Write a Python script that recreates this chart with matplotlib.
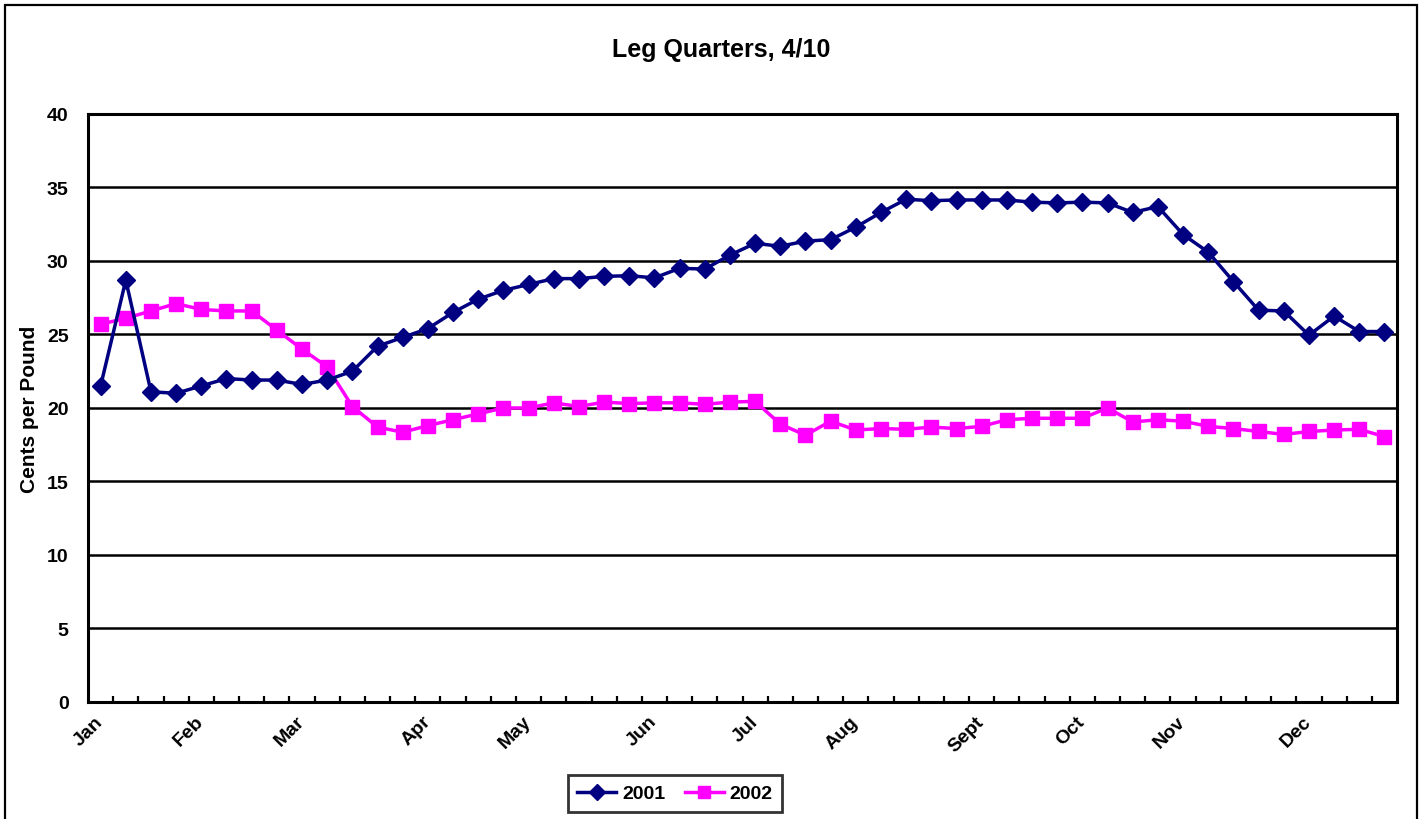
import matplotlib
matplotlib.use("Agg")
import matplotlib.pyplot as plt
from matplotlib.patches import Rectangle
from matplotlib.ticker import FixedLocator

plt.rcParams['font.family'] = ['Liberation Sans', 'DejaVu Sans']
plt.rcParams['font.weight'] = 'bold'

# weekly prices, cents per pound
y2001 = [21.5, 28.7, 21.1, 21.0, 21.5, 22.0, 21.9, 21.9, 21.6, 21.9,
         22.5, 24.2, 24.8, 25.4, 26.5, 27.4, 28.0, 28.4, 28.8, 28.8,
         28.95, 29.0, 28.85, 29.5, 29.45, 30.4, 31.2, 31.0, 31.35, 31.45,
         32.3, 33.3, 34.2, 34.1, 34.15, 34.15, 34.15, 34.0, 33.95, 34.0,
         33.95, 33.3, 33.7, 31.8, 30.6, 28.6, 26.65, 26.6, 24.95, 26.25,
         25.2, 25.2]
y2002 = [25.7, 26.1, 26.6, 27.1, 26.7, 26.6, 26.6, 25.3, 24.0, 22.8,
         20.1, 18.7, 18.35, 18.8, 19.2, 19.6, 20.0, 20.0, 20.35, 20.1,
         20.4, 20.3, 20.35, 20.35, 20.25, 20.4, 20.45, 18.9, 18.15, 19.1,
         18.5, 18.6, 18.55, 18.7, 18.6, 18.75, 19.2, 19.3, 19.3, 19.3,
         20.0, 19.05, 19.2, 19.1, 18.75, 18.6, 18.4, 18.2, 18.4, 18.5,
         18.55, 18.05]
month_labels = ["Jan", "Feb", "Mar", "Apr", "May", "Jun", "Jul", "Aug",
                "Sept", "Oct", "Nov", "Dec"]
month_weeks = [0, 4, 8, 13, 17, 22, 26, 30, 35, 39, 43, 48]

weeks = list(range(len(y2001)))

fig = plt.figure(figsize=(14.27, 8.2), dpi=100)
ax = fig.add_axes([0.0617, 0.1427, 0.9173, 0.7171])

# outer chart frame
fig.patches.append(Rectangle((0.0035, -0.05), 0.9896, 1.0427, transform=fig.transFigure,
                             fill=False, edgecolor='black', linewidth=1.6))

for y in range(5, 40, 5):
    ax.axhline(y, color='black', linewidth=1.8, zorder=1)

ax.plot(weeks, y2001, color='#000080', linewidth=2.5, marker='D', markersize=9.5,
        label='2001', zorder=3)
ax.plot(weeks, y2002, color='#FF00FF', linewidth=2.5, marker='s', markersize=10,
        label='2002', zorder=2)

ax.set_xlim(-0.5, len(weeks) - 0.5)
ax.set_ylim(0, 40)
ax.set_yticks(range(0, 41, 5))
ax.tick_params(axis='y', length=0, pad=14, labelsize=14)

ax.set_xticks(month_weeks)
ax.set_xticklabels(month_labels, rotation=45, ha='right', va='center',
                   rotation_mode='anchor', fontsize=14)
ax.tick_params(axis='x', which='major', length=0, pad=12)
ax.xaxis.set_minor_locator(FixedLocator([w + 0.5 for w in weeks[:-1]]))
ax.tick_params(axis='x', which='minor', direction='in', length=4.5, width=1.6)

for s in ax.spines.values():
    s.set_linewidth(2.2)

fig.text(721 / 1427, 1 - 57 / 820, "Leg Quarters, 4/10", fontsize=18,
         fontweight='bold', ha='center', va='baseline')
ax.set_ylabel("Cents per Pound", fontsize=15, fontweight='bold', labelpad=6)

leg = fig.legend(loc='center', bbox_to_anchor=(675 / 1427, 1 - 794.5 / 820), ncol=2,
                 fontsize=14, frameon=True, fancybox=False, handlelength=2.0,
                 columnspacing=1.0, handletextpad=0.3, borderpad=0.5, markerscale=0.9)
leg.get_frame().set_edgecolor('black')
leg.get_frame().set_linewidth(2.0)

fig.savefig("out.png", dpi=100)
